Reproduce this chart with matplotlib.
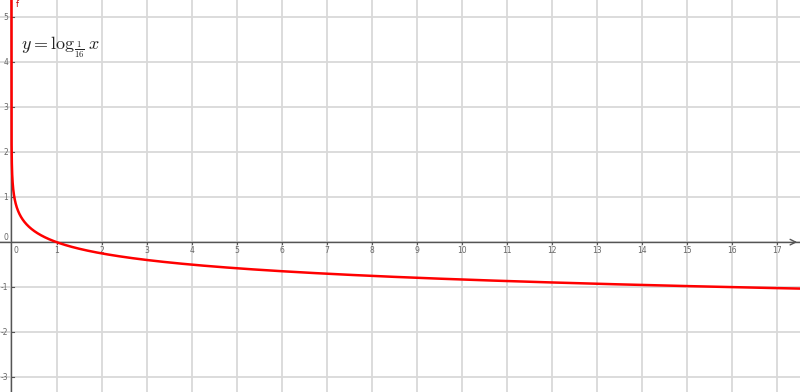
import matplotlib
matplotlib.use('Agg')
import matplotlib.pyplot as plt
import numpy as np

plt.rcParams['mathtext.fontset'] = 'cm'

# function y = log_{1/16} x
base = 1 / 16
x_ticks = list(range(1, 18))
y_ticks = [-3, -2, -1, 1, 2, 3, 4, 5]
formula = r'$y = \log_{\frac{1}{16}} x$'

x = np.concatenate([np.logspace(-9, -1, 800), np.linspace(0.1, 17.6, 3000)])
y = np.log(x) / np.log(base)

fig = plt.figure(figsize=(8, 3.92), dpi=100)
ax = fig.add_axes([0, 0, 1, 1])
ax.set_xlim(-0.255, 17.5)
ax.set_ylim(-3.33, 5.38)

grid_c = '#d9d9d9'
for t in range(0, 18):
    ax.axvline(t, color=grid_c, lw=1.3, zorder=0)
for t in range(-3, 6):
    ax.axhline(t, color=grid_c, lw=1.3, zorder=0)

# axes
ax.axhline(0, color='#555555', lw=1.0, zorder=1)
ax.axvline(0, color='#555555', lw=1.0, zorder=1)
ax.annotate('', xy=(17.5, 0), xytext=(17.3, 0),
            arrowprops=dict(arrowstyle='->', color='#555555', lw=1.0))

lab_c = '#666666'
for t in x_ticks:
    ax.plot([t, t], [0, -0.05], color='#555555', lw=0.8)
    ax.text(t, -0.08, str(t), fontsize=5.5, color=lab_c, ha='center', va='top')
ax.text(0.1, -0.08, '0', fontsize=5.5, color=lab_c, ha='center', va='top')
for t in y_ticks:
    ax.plot([0, 0.05], [t, t], color='#555555', lw=0.8)
    ax.text(-0.07, t, str(t), fontsize=5.5, color=lab_c, ha='right', va='center')
ax.text(-0.07, 0.1, '0', fontsize=5.5, color=lab_c, ha='right', va='center')

ax.plot(x, y, color='#ff0000', lw=1.8, zorder=3)
ax.text(0.1, 5.28, 'f', fontsize=6, color='#cc0000', ha='left', va='center')
ax.text(0.22, 4.33, formula, fontsize=13, color='#222222', ha='left', va='center')

ax.axis('off')
fig.savefig('out.png', dpi=100)
